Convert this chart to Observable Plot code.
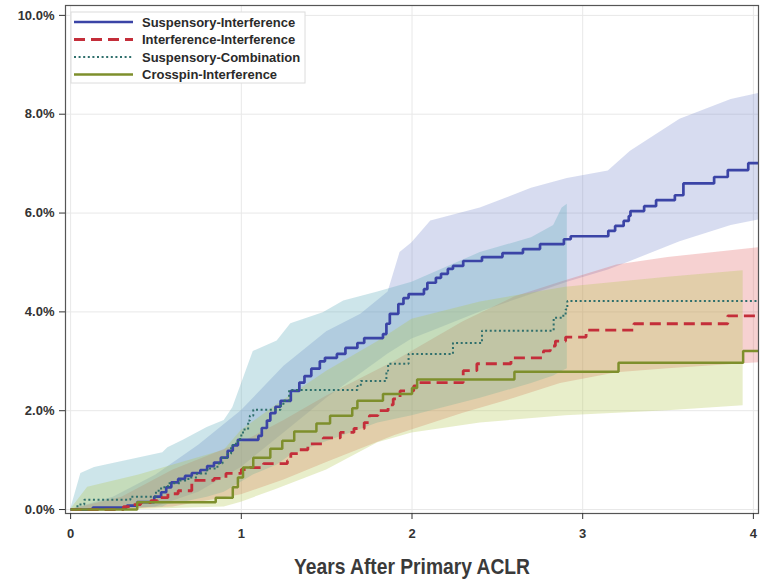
<!DOCTYPE html>
<html>
<head>
<meta charset="utf-8">
<script src="https://cdn.jsdelivr.net/npm/d3@7"></script>
<script src="https://cdn.jsdelivr.net/npm/@observablehq/plot@0.6"></script>
<style>
  body { margin: 0; background: #fff; }
  #chart svg { display: block; }
</style>
</head>
<body>
<div id="chart"></div>
<script>
// Cumulative incidence of revision (%) by years after primary ACLR, per fixation group.

// Suspensory-Interference
const siT = [0, 0.13, 0.33, 0.39, 0.49, 0.53, 0.56, 0.59, 0.63, 0.67, 0.71, 0.76, 0.80, 0.84, 0.88, 0.92, 0.95, 0.98, 1.10, 1.12, 1.15, 1.17, 1.20, 1.23, 1.29, 1.34, 1.37, 1.41, 1.46, 1.49, 1.56, 1.61, 1.68, 1.72, 1.83, 1.85, 1.87, 1.92, 1.95, 1.98, 2.07, 2.09, 2.14, 2.17, 2.21, 2.24, 2.30, 2.41, 2.53, 2.65, 2.75, 2.89, 2.93, 3.15, 3.19, 3.24, 3.27, 3.28, 3.36, 3.43, 3.54, 3.59, 3.77, 3.85, 3.97, 4.03];
const siV = [0, 0.04, 0.08, 0.15, 0.26, 0.35, 0.45, 0.55, 0.62, 0.68, 0.74, 0.80, 0.88, 0.95, 1.05, 1.19, 1.30, 1.41, 1.49, 1.65, 1.80, 1.95, 2.08, 2.20, 2.40, 2.57, 2.70, 2.85, 3.00, 3.07, 3.15, 3.27, 3.37, 3.47, 3.55, 3.76, 3.96, 4.16, 4.28, 4.36, 4.46, 4.59, 4.69, 4.77, 4.87, 4.93, 5.03, 5.11, 5.19, 5.27, 5.37, 5.47, 5.53, 5.64, 5.74, 5.84, 5.94, 6.04, 6.14, 6.26, 6.36, 6.60, 6.73, 6.87, 7.01, 7.01];
const siBandT  = [0, 0.25, 0.5, 0.75, 1.0, 1.25, 1.5, 1.7, 1.86, 1.93, 2.0, 2.11, 2.4, 2.7, 2.91, 3.15, 3.28, 3.57, 3.87, 4.03];
const siBandHi = [0, 0.25, 0.7, 1.3, 2.0, 2.9, 3.6, 3.95, 4.4, 5.2, 5.4, 5.84, 6.1, 6.5, 6.7, 6.85, 7.25, 7.9, 8.3, 8.42];
const siBandLo = [0, 0, 0.05, 0.35, 0.85, 1.55, 2.25, 2.75, 3.15, 3.3, 3.45, 3.6, 4.0, 4.35, 4.6, 4.85, 5.02, 5.42, 5.75, 5.86];

// Interference-Interference
const iiT = [0, 0.31, 0.35, 0.41, 0.47, 0.51, 0.57, 0.63, 0.71, 0.84, 0.91, 1.00, 1.05, 1.13, 1.27, 1.29, 1.34, 1.39, 1.48, 1.58, 1.66, 1.72, 1.75, 1.80, 1.86, 1.89, 1.93, 2.01, 2.04, 2.30, 2.38, 2.58, 2.77, 2.81, 2.84, 2.90, 3.02, 3.30, 3.85, 4.03];
const iiV = [0, 0.06, 0.10, 0.14, 0.18, 0.24, 0.32, 0.38, 0.59, 0.63, 0.73, 0.81, 0.85, 0.93, 0.99, 1.13, 1.21, 1.33, 1.45, 1.56, 1.64, 1.76, 1.90, 2.00, 2.12, 2.24, 2.40, 2.50, 2.57, 2.81, 2.95, 3.07, 3.21, 3.31, 3.41, 3.49, 3.63, 3.76, 3.92, 3.92];
const iiBandT  = [0, 0.3, 0.6, 1.0, 1.25, 1.5, 1.9, 2.3, 2.6, 2.87, 3.2, 3.5, 4.03];
const iiBandHi = [0, 0.25, 0.8, 1.35, 1.8, 2.3, 3.0, 3.8, 4.3, 4.6, 4.95, 5.1, 5.3];
const iiBandLo = [0, 0, 0.05, 0.3, 0.6, 0.95, 1.5, 1.95, 2.25, 2.55, 2.77, 2.85, 2.97];

// Suspensory-Combination
const scT = [0, 0.04, 0.08, 0.35, 0.50, 0.53, 0.57, 0.64, 0.69, 0.74, 0.80, 0.86, 0.89, 0.92, 0.94, 0.95, 0.98, 1.00, 1.01, 1.04, 1.05, 1.07, 1.23, 1.25, 1.28, 1.68, 1.70, 1.85, 1.86, 1.98, 2.24, 2.41, 2.83, 2.88, 2.90, 2.91, 4.03];
const scV = [0, 0.10, 0.20, 0.26, 0.38, 0.45, 0.53, 0.59, 0.65, 0.73, 0.83, 0.93, 1.05, 1.13, 1.25, 1.33, 1.43, 1.53, 1.62, 1.80, 1.90, 2.02, 2.14, 2.20, 2.42, 2.50, 2.60, 2.81, 2.95, 3.15, 3.37, 3.62, 3.88, 3.92, 4.05, 4.22, 4.22];
const scBandT  = [0, 0.06, 0.14, 0.54, 0.57, 0.66, 0.8, 0.9, 0.95, 1.07, 1.21, 1.29, 1.48, 1.6, 1.8, 2.0, 2.4, 2.7, 2.83, 2.88, 2.91];
const scBandHi = [0, 0.73, 0.85, 1.15, 1.25, 1.4, 1.66, 1.8, 2.06, 3.2, 3.41, 3.76, 3.98, 4.22, 4.4, 4.6, 5.2, 5.5, 5.75, 6.1, 6.18];
const scBandLo = [0, 0, 0, 0.05, 0.1, 0.15, 0.25, 0.35, 0.45, 0.7, 0.9, 1.1, 1.35, 1.5, 1.75, 1.9, 2.25, 2.55, 2.7, 2.8, 2.85];

// Crosspin-Interference
const ciT = [0, 0.39, 0.85, 0.95, 0.98, 1.01, 1.07, 1.17, 1.24, 1.31, 1.44, 1.52, 1.65, 1.68, 1.83, 2.00, 2.03, 2.60, 3.21, 3.94, 4.03];
const ciV = [0, 0.15, 0.24, 0.45, 0.65, 0.85, 1.05, 1.23, 1.39, 1.58, 1.74, 1.90, 2.05, 2.20, 2.34, 2.46, 2.63, 2.79, 2.97, 3.21, 3.21];
const ciBandT  = [0, 0.1, 0.4, 0.9, 1.0, 1.2, 1.5, 1.8, 2.0, 2.4, 2.9, 3.5, 3.94];
const ciBandHi = [0, 0.45, 0.7, 1.2, 1.6, 2.1, 2.8, 3.4, 3.85, 4.2, 4.5, 4.7, 4.83];
const ciBandLo = [0, 0, 0, 0.05, 0.15, 0.4, 0.8, 1.35, 1.55, 1.75, 1.9, 2.0, 2.1];

// Legend entries and styles
const seriesNames  = ["Suspensory-Interference", "Interference-Interference", "Suspensory-Combination", "Crosspin-Interference"];
const lineColors   = ["#3b44a6", "#c42e3a", "#2f6f6c", "#7e8f2c"];
const bandColors   = ["#6678c4", "#e05a5a", "#5aaab8", "#b4c850"];
const bandOpacity  = [0.26, 0.28, 0.3, 0.3];
const lineDash     = [null, "11,6", "2,2.6", null];
const lineWidths   = [2.7, 2.8, 2, 2.5];

// Axis ticks
const xTicks = [0, 1, 2, 3, 4];
const yTicks = [0, 2, 4, 6, 8, 10];
const xTitle = "Years After Primary ACLR";

const steps = (T, V) => T.map((t, i) => ({t, v: V[i]}));
const band = (T, lo, hi) => T.map((t, i) => ({t, lo: lo[i], hi: hi[i]}));

const curves = [steps(siT, siV), steps(iiT, iiV), steps(scT, scV), steps(ciT, ciV)];
const bands = [
  band(siBandT, siBandLo, siBandHi),
  band(iiBandT, iiBandLo, iiBandHi),
  band(scBandT, scBandLo, scBandHi),
  band(ciBandT, ciBandLo, ciBandHi)
];

const font = "'Liberation Sans', Arial, Helvetica, sans-serif";

const chart = Plot.plot({
  width: 765,
  height: 579,
  marginLeft: 65,
  marginRight: 7,
  marginTop: 5,
  marginBottom: 66,
  style: {fontFamily: font, background: "#fff", overflow: "visible"},
  x: {domain: [-0.03, 4.03]},
  y: {domain: [-0.08, 10.2]},
  marks: [
    Plot.gridX(xTicks, {stroke: "#e8e8e8", strokeOpacity: 1}),
    Plot.gridY(yTicks, {stroke: "#e8e8e8", strokeOpacity: 1}),
    ...bands.map((b, i) => Plot.areaY(b, {
      x: "t", y1: "lo", y2: "hi", fill: bandColors[i], fillOpacity: bandOpacity[i], curve: "linear"
    })),
    ...curves.map((c, i) => Plot.line(c, {
      x: "t", y: "v", curve: "step-after",
      stroke: lineColors[i], strokeWidth: lineWidths[i],
      strokeDasharray: lineDash[i], strokeLinecap: "butt", strokeLinejoin: "miter"
    })),
    Plot.frame({stroke: "#555", strokeWidth: 1.2}),
    Plot.axisY({
      ticks: yTicks, tickFormat: d => d.toFixed(1) + "%",
      tickSize: 6, tickPadding: 5, fontSize: 13, fontWeight: "bold",
      color: "#333", label: null
    }),
    Plot.axisX({
      ticks: xTicks, tickFormat: d => String(d),
      tickSize: 6, tickPadding: 9, fontSize: 13, fontWeight: "bold",
      color: "#333", label: null
    }),
    Plot.text([xTitle], {
      frameAnchor: "bottom", lineAnchor: "middle", dy: 53,
      fontSize: 22, fontWeight: "bold", fill: "#3a3a3a"
    })
  ]
});

document.getElementById("chart").appendChild(chart);

const svg = d3.select(chart);

// Condensed axis title
svg.selectAll("text")
  .filter(function () { return this.textContent === xTitle; })
  .attr("textLength", 236)
  .attr("lengthAdjust", "spacingAndGlyphs");

// In-plot legend, top-left corner
const lg = svg.append("g").attr("transform", "translate(71,12)");
lg.append("rect")
  .attr("width", 234).attr("height", 71)
  .attr("fill", "#fff").attr("stroke", "#dcdcdc");
seriesNames.forEach((name, i) => {
  const y = 10 + i * 17.5;
  lg.append("line")
    .attr("x1", 3).attr("x2", 62).attr("y1", y).attr("y2", y)
    .attr("stroke", lineColors[i])
    .attr("stroke-width", lineWidths[i])
    .attr("stroke-dasharray", lineDash[i]);
  lg.append("text")
    .attr("x", 71).attr("y", y).attr("dy", "0.35em")
    .attr("text-anchor", "start")
    .attr("font-family", font).attr("font-size", 13).attr("font-weight", "bold")
    .attr("fill", "#2a2a2a")
    .text(name);
});
</script>
</body>
</html>
